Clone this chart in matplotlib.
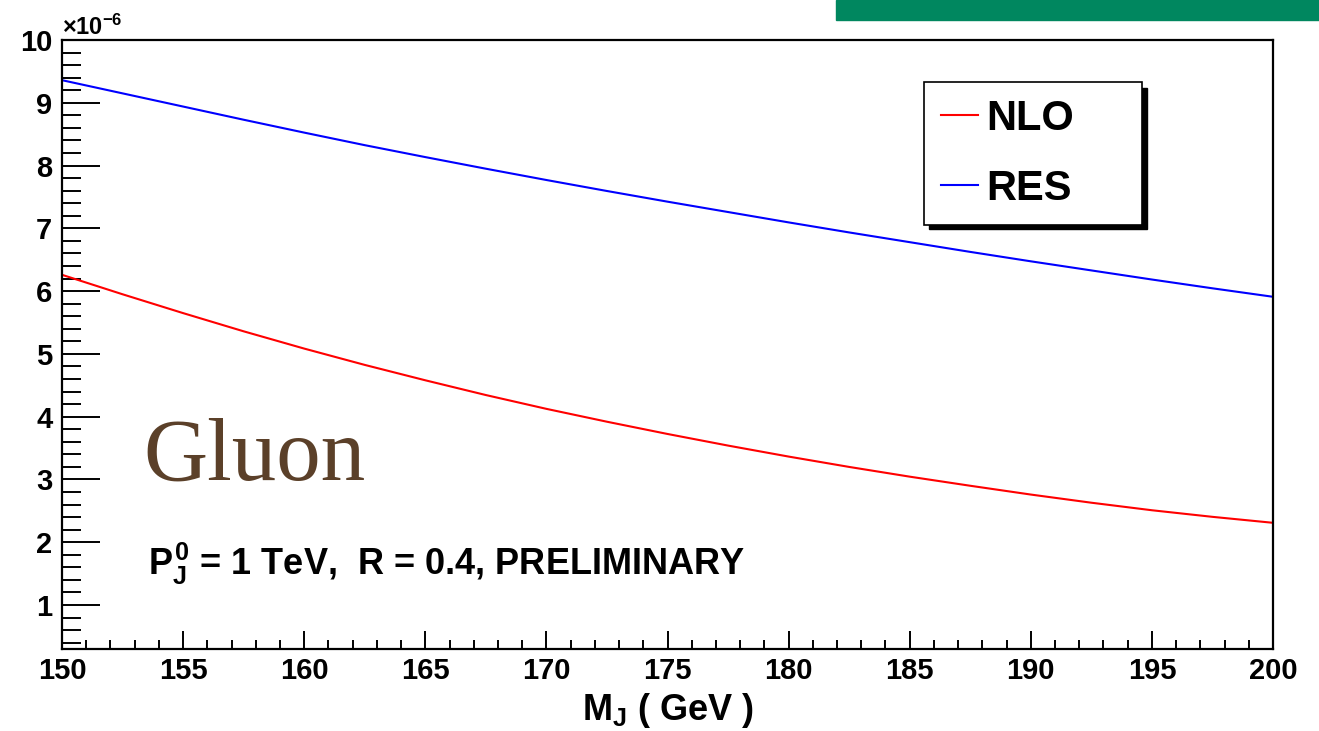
import numpy as np
import matplotlib
matplotlib.use("Agg")
import matplotlib.pyplot as plt
from matplotlib.patches import Rectangle
from matplotlib.ticker import MultipleLocator

# jet mass (GeV) and distributions in units of 1e-6
mass = [150.0, 152.5, 155.0, 157.5, 160.0, 162.5, 165.0, 167.5, 170.0, 172.5,
        175.0, 177.5, 180.0, 182.5, 185.0, 187.5, 190.0, 192.5, 195.0, 197.5,
        200.0]
nlo = [6.26, 5.95, 5.65, 5.36, 5.085, 4.825, 4.58, 4.345, 4.125, 3.92,
       3.725, 3.54, 3.365, 3.20, 3.045, 2.90, 2.76, 2.63, 2.51, 2.405, 2.31]
res = [9.36, 9.15, 8.94, 8.73, 8.525, 8.325, 8.135, 7.95, 7.77, 7.595,
       7.425, 7.26, 7.095, 6.935, 6.78, 6.625, 6.475, 6.33, 6.185, 6.045, 5.91]

series_labels = ["NLO", "RES"]
series_colors = ["#ff0000", "#0000ff"]

plt.rcParams["font.family"] = ["Liberation Sans", "DejaVu Sans"]
plt.rcParams["font.weight"] = "bold"
plt.rcParams["mathtext.fontset"] = "custom"
plt.rcParams["mathtext.rm"] = "Liberation Sans:bold"
plt.rcParams["mathtext.it"] = "Liberation Sans:bold"
plt.rcParams["mathtext.bf"] = "Liberation Sans:bold"

W, H = 1319, 731
fig = plt.figure(figsize=(W / 100, H / 100), dpi=100)
ax = fig.add_axes([62 / W, 1 - 649 / H, (1273 - 62) / W, (649 - 40) / H])

ax.plot(mass, nlo, color=series_colors[0], lw=1.5, label=series_labels[0])
ax.plot(mass, res, color=series_colors[1], lw=1.5, label=series_labels[1])

ax.set_xlim(150, 200)
ax.set_ylim(0.3, 10)
ax.xaxis.set_major_locator(MultipleLocator(5))
ax.xaxis.set_minor_locator(MultipleLocator(1))
ax.yaxis.set_major_locator(MultipleLocator(1))
ax.yaxis.set_minor_locator(MultipleLocator(0.2))

for s in ax.spines.values():
    s.set_linewidth(1.6)
ax.tick_params(axis="both", which="both", direction="in", width=1.4,
               top=False, right=False, labelsize=21)
ax.tick_params(axis="y", which="major", length=27, pad=7)
ax.tick_params(axis="y", which="minor", length=14)
ax.tick_params(axis="x", which="major", length=13, pad=6)
ax.tick_params(axis="x", which="minor", length=6.5)
for lab in ax.get_xticklabels() + ax.get_yticklabels():
    lab.set_fontweight("bold")

ax.set_xlabel("$M_J$ ( GeV )", fontsize=26, fontweight="bold", labelpad=4)

fig.text(62 / W, 1 - 35 / H, r"$\times$10$^{-6}$", fontsize=17,
         ha="left", va="baseline")

ax.text(0.0669, 0.279, "Gluon", transform=ax.transAxes, fontsize=64,
        family="Liberation Serif", fontweight="normal", color="#5b4029",
        va="baseline")
ax.text(0.071, 0.1215, "$P_J^0$ = 1 TeV,  R = 0.4, PRELIMINARY",
        transform=ax.transAxes, fontsize=26, fontweight="bold", va="baseline")

# legend box with solid shadow
lx0, lx1, ly0, ly1 = 924, 1142, 82, 223
leg = ax.legend(loc="upper left",
                bbox_to_anchor=(lx0 / W, 1 - ly1 / H, (lx1 - lx0) / W, (ly1 - ly0) / H),
                bbox_transform=fig.transFigure, mode="expand", fancybox=False,
                frameon=True, edgecolor="black", facecolor="white", framealpha=1,
                fontsize=30, handlelength=0.9, handletextpad=0.2, borderpad=0.4,
                labelspacing=0.72, borderaxespad=0)
leg.get_frame().set_linewidth(1.2)
for t in leg.get_texts():
    t.set_fontweight("bold")
ax.add_patch(Rectangle(((lx0 + 5) / W, 1 - (ly1 + 6) / H), (lx1 - lx0) / W,
                       (ly1 - ly0) / H, transform=fig.transFigure,
                       color="black", zorder=4, clip_on=False))

fig.patches.append(Rectangle((836 / W, 1 - 20 / H), 1 - 836 / W, 20 / H,
                             transform=fig.transFigure, color="#00875f",
                             figure=fig))

fig.savefig("out.png", dpi=100)
